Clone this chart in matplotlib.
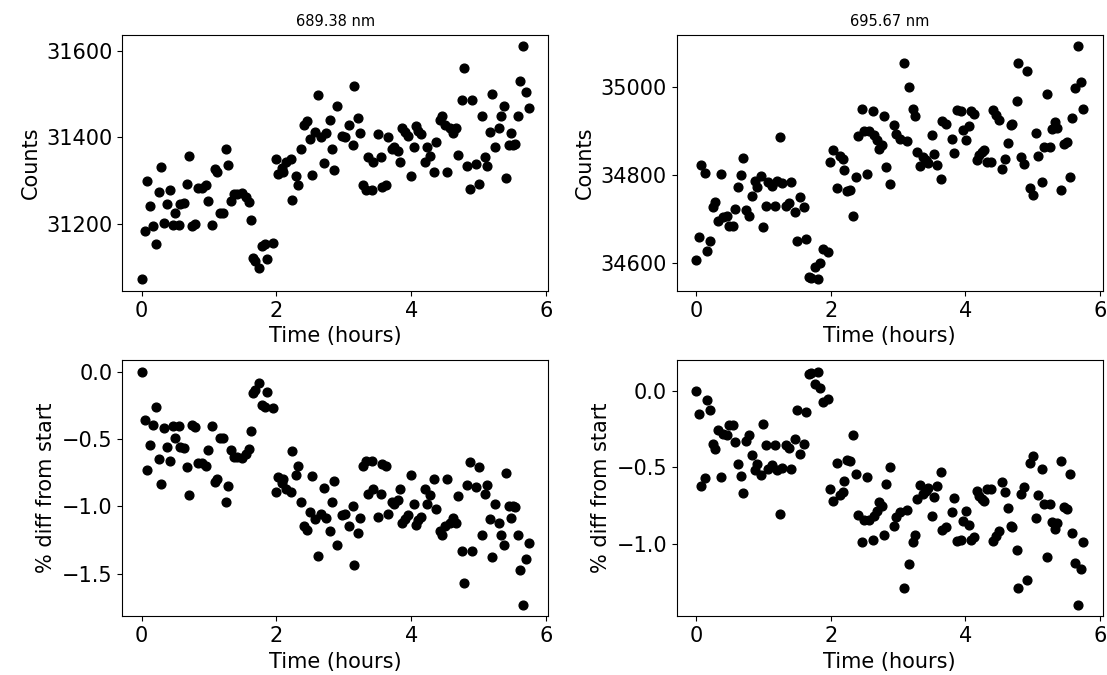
import numpy as np
import matplotlib.pyplot as plt
from matplotlib.ticker import MultipleLocator

# 689.38 nm channel: time (hours) and raw counts
t_689 = [0.000, 0.044, 0.079, 0.128, 0.163, 0.212, 0.261, 0.286, 0.335, 0.374,
         0.414, 0.458, 0.502, 0.552, 0.576, 0.630, 0.675, 0.704, 0.749, 0.798,
         0.833, 0.901, 0.956, 0.990, 1.039, 1.089, 1.118, 1.167, 1.207, 1.251,
         1.281, 1.330, 1.365, 1.409, 1.488, 1.547, 1.586, 1.621, 1.655, 1.685,
         1.744, 1.793, 1.837, 1.867, 1.956, 2.000, 2.030, 2.084, 2.103, 2.138,
         2.212, 2.236, 2.296, 2.325, 2.369, 2.414, 2.448, 2.497, 2.527, 2.571,
         2.611, 2.660, 2.709, 2.734, 2.788, 2.818, 2.857, 2.897,
         2.978, 3.017, 3.081, 3.131, 3.156, 3.215, 3.240, 3.279, 3.328, 3.363,
         3.412, 3.437, 3.501, 3.546, 3.570, 3.625, 3.659, 3.709, 3.748, 3.798,
         3.832, 3.867, 3.906, 3.946, 3.995, 4.044, 4.069, 4.104, 4.153, 4.202,
         4.242, 4.277, 4.336, 4.375, 4.425, 4.464, 4.509, 4.538, 4.573, 4.622,
         4.672, 4.701, 4.751, 4.780, 4.830, 4.879, 4.909, 4.958, 5.002, 5.047,
         5.091, 5.121, 5.165, 5.200, 5.249, 5.299, 5.328, 5.373, 5.412, 5.447,
         5.486, 5.506, 5.546, 5.585, 5.615, 5.659, 5.699, 5.748]
c_689 = [31072, 31183, 31298, 31241, 31196, 31153, 31273, 31332, 31203, 31246,
         31278, 31198, 31225, 31198, 31246, 31248, 31293, 31357, 31196, 31200,
         31284, 31284, 31291, 31253, 31198, 31326, 31319, 31225, 31225, 31374,
         31336, 31253, 31268, 31268, 31271, 31262, 31251, 31210, 31121, 31115,
         31099, 31148, 31154, 31118, 31155, 31349, 31316, 31330, 31321, 31342,
         31349, 31256, 31311, 31289, 31374, 31428, 31437, 31395, 31314, 31412,
         31497, 31400, 31341, 31409, 31439, 31372, 31324, 31472,
         31403, 31400, 31429, 31382, 31518, 31444, 31409, 31289, 31278, 31354,
         31279, 31344, 31407, 31354, 31285, 31289, 31400, 31372, 31377, 31369,
         31344, 31422, 31413, 31403, 31311, 31377, 31425, 31415, 31408, 31344,
         31378, 31357, 31321, 31390, 31440, 31450, 31429, 31321, 31421, 31411,
         31421, 31359, 31485, 31560, 31333, 31280, 31487, 31338, 31293, 31450,
         31355, 31333, 31412, 31500, 31377, 31421, 31450, 31473, 31306, 31382,
         31409, 31382, 31384, 31450, 31529, 31610, 31505, 31467]

# 695.67 nm channel
t_695 = [0.000, 0.045, 0.079, 0.129, 0.158, 0.208, 0.257, 0.282, 0.332, 0.371,
         0.406, 0.455, 0.495, 0.545, 0.579, 0.624, 0.663, 0.703, 0.743, 0.787,
         0.837, 0.871, 0.911, 0.960, 0.995, 1.045, 1.069, 1.124, 1.173, 1.198,
         1.252, 1.282, 1.337, 1.381, 1.416, 1.465, 1.505, 1.545, 1.604, 1.634,
         1.673, 1.713, 1.762, 1.807, 1.837, 1.881, 1.960, 1.990, 2.040, 2.089,
         2.134, 2.183, 2.203, 2.238, 2.287, 2.332, 2.376, 2.406, 2.465, 2.500,
         2.540, 2.564, 2.624, 2.644, 2.683, 2.723, 2.762, 2.797, 2.827, 2.881,
         2.941, 2.975, 3.025, 3.089, 3.139, 3.163, 3.223, 3.252, 3.287, 3.327,
         3.376, 3.421, 3.446, 3.505, 3.535, 3.584, 3.634, 3.658, 3.718, 3.797,
         3.832, 3.871, 3.931, 3.965, 4.005, 4.054, 4.079, 4.129, 4.178, 4.203,
         4.243, 4.277, 4.327, 4.376, 4.411, 4.460, 4.500, 4.550, 4.584, 4.639,
         4.673, 4.698, 4.762, 4.782, 4.832, 4.871, 4.921, 4.960, 5.010, 5.050,
         5.079, 5.134, 5.168, 5.208, 5.252, 5.292, 5.327, 5.366, 5.416, 5.465,
         5.505, 5.554, 5.589, 5.624, 5.678, 5.713, 5.752]
c_695 = [34608, 34660, 34823, 34805, 34628, 34650, 34728, 34739, 34696, 34802,
         34705, 34708, 34685, 34685, 34723, 34773, 34801, 34840, 34722, 34708,
         34753, 34787, 34773, 34798, 34683, 34730, 34785, 34776, 34730, 34787,
         34887, 34783, 34730, 34737, 34785, 34717, 34652, 34751, 34728, 34655,
         34570, 34567, 34592, 34564, 34602, 34633, 34626, 34830, 34858, 34772,
         34843, 34836, 34811, 34764, 34767, 34707, 34796, 34889, 34951, 34901,
         34802, 34900, 34945, 34891, 34880, 34859, 34868, 34934, 34819, 34781,
         34914, 34893, 34883, 35054, 34877, 34999, 34951, 34934, 34853, 34820,
         34842, 34834, 34827, 34892, 34849, 34823, 34791, 34923, 34916, 34881,
         34851, 34948, 34946, 34902, 34880, 34911, 34945, 34939, 34834, 34845,
         34853, 34858, 34830, 34830, 34948, 34936, 34925, 34813, 34836, 34872,
         34914, 34917, 34969, 35054, 34842, 34825, 35037, 34770, 34755, 34895,
         34843, 34785, 34863, 34984, 34863, 34904, 34921, 34906, 34766, 34870,
         34876, 34796, 34929, 34998, 35092, 35012, 34951]

channels = [("689.38 nm", t_689, c_689), ("695.67 nm", t_695, c_695)]

fig = plt.figure(figsize=(11.07, 6.75), dpi=100)
W, H = 1107, 675
lefts = [122.3, 676.7]
tops = [34.7, 360]
aw, ah = 426, 256.3

for col, (name, t, c) in enumerate(channels):
    t = np.array(t)
    c = np.array(c, dtype=float)
    pct = (c[0] - c) / c[0] * 100

    for row, (y, ylab) in enumerate([(c, "Counts"), (pct, "% diff from start")]):
        ax = fig.add_axes([lefts[col] / W, 1 - (tops[row] + ah) / H, aw / W, ah / H])
        ax.plot(t, y, 'o', color='black', markersize=6.3)
        ax.set_xlabel("Time (hours)", fontsize=15)
        ax.set_ylabel(ylab, fontsize=15)
        ax.tick_params(labelsize=15)
        ax.set_xticks([0, 2, 4, 6])
        if row == 0:
            ax.yaxis.set_major_locator(MultipleLocator(200))
            ax.set_title(name, fontsize=10.5)
        else:
            ax.yaxis.set_major_locator(MultipleLocator(0.5))

fig.savefig("out.png", dpi=100)
